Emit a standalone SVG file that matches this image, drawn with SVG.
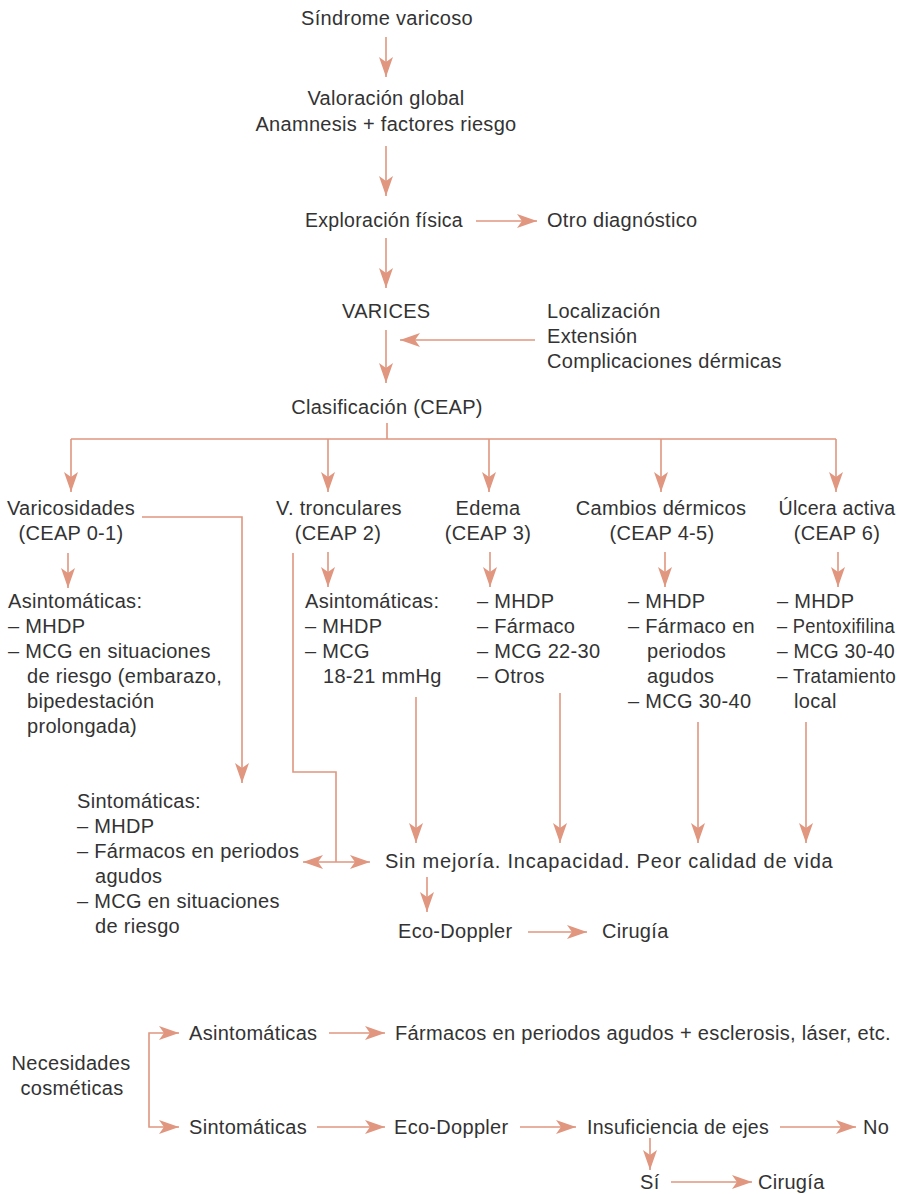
<svg xmlns="http://www.w3.org/2000/svg" width="904" height="1194" viewBox="0 0 904 1194">
<style>
text{font-family:"Liberation Sans",Arial,sans-serif;font-size:20px;fill:#333;letter-spacing:0.3px}
.c{text-anchor:middle}
.ln{fill:none;stroke:#E0967F;stroke-width:1.6}
.ar{marker-end:url(#ah)}
</style>
<defs>
<marker id="ah" markerWidth="22" markerHeight="16" refX="20" refY="8" orient="auto-start-reverse" markerUnits="userSpaceOnUse">
<path d="M20,8 L0,1 L5,8 L0,15 Z" fill="#E0967F"/>
</marker>
</defs>
<rect width="904" height="1194" fill="#fff"/>
<g id="connectors">
<path class="ln ar" d="M386,37 V77"/>
<path class="ln ar" d="M386,146 V196"/>
<path class="ln ar" d="M476,221 H537"/>
<path class="ln ar" d="M386,238 V288"/>
<path class="ln ar" d="M535,340 H400"/>
<path class="ln ar" d="M386,330 V383"/>
<path class="ln" d="M387,423 V439 M71,439 H836"/>
<path class="ln ar" d="M71,439 V492"/>
<path class="ln ar" d="M328,439 V492"/>
<path class="ln ar" d="M489,439 V492"/>
<path class="ln ar" d="M661,439 V492"/>
<path class="ln ar" d="M836,439 V492"/>
<path class="ln ar" d="M68,553 V588"/>
<path class="ln ar" d="M328,552 V587"/>
<path class="ln ar" d="M490,552 V587"/>
<path class="ln ar" d="M665,552 V587"/>
<path class="ln ar" d="M838,552 V587"/>
<path class="ln ar" d="M142,517 H242 V783"/>
<path class="ln" d="M293,553 V772 H336 V862"/>
<path class="ln ar" d="M336,862 H303"/>
<path class="ln ar" d="M336,862 H370"/>
<path class="ln ar" d="M416,697 V843"/>
<path class="ln ar" d="M560,693 V843"/>
<path class="ln ar" d="M698,722 V843"/>
<path class="ln ar" d="M806,722 V843"/>
<path class="ln ar" d="M427,877 V912"/>
<path class="ln ar" d="M528,932 H587"/>
<path class="ln" d="M179,1033 H149 V1127 H179" marker-start="url(#ah)" marker-end="url(#ah)"/>
<path class="ln ar" d="M329,1033 H385"/>
<path class="ln ar" d="M317,1127 H385"/>
<path class="ln ar" d="M520,1127 H576"/>
<path class="ln ar" d="M780,1127 H856"/>
<path class="ln ar" d="M650,1138 V1170"/>
<path class="ln ar" d="M671,1182 H752"/>
</g>
<g id="n-sindrome"><text class="c" x="387" y="25">Síndrome varicoso</text></g>
<g id="n-valoracion"><text class="c" x="386" y="105">Valoración global</text><text class="c" x="386" y="131">Anamnesis + factores riesgo</text></g>
<g id="n-exploracion"><text x="305" y="227" textLength="158" lengthAdjust="spacingAndGlyphs">Exploración física</text></g>
<g id="n-otro"><text x="547" y="227">Otro diagnóstico</text></g>
<g id="n-varices"><text x="342" y="318">VARICES</text></g>
<g id="n-localizacion"><text x="547" y="318">Localización</text><text x="547" y="343">Extensión</text><text x="547" y="368">Complicaciones dérmicas</text></g>
<g id="n-clasificacion"><text class="c" x="387" y="414">Clasificación (CEAP)</text></g>
<g id="n-varicosidades"><text class="c" x="71" y="515">Varicosidades</text><text class="c" x="71" y="540">(CEAP 0-1)</text></g>
<g id="n-tronculares"><text class="c" x="339" y="515">V. tronculares</text><text class="c" x="338" y="540">(CEAP 2)</text></g>
<g id="n-edema"><text class="c" x="488" y="515">Edema</text><text class="c" x="488" y="540">(CEAP 3)</text></g>
<g id="n-cambios"><text class="c" x="661" y="515">Cambios dérmicos</text><text class="c" x="662" y="540">(CEAP 4-5)</text></g>
<g id="n-ulcera"><text class="c" x="837" y="515" textLength="117" lengthAdjust="spacingAndGlyphs">Úlcera activa</text><text class="c" x="837" y="540">(CEAP 6)</text></g>
<g id="n-asint1"><text x="8" y="608">Asintomáticas:</text><text x="8" y="633">– MHDP</text><text x="8" y="658">– MCG en situaciones</text><text x="27" y="683">de riesgo (embarazo,</text><text x="27" y="708">bipedestación</text><text x="27" y="733">prolongada)</text></g>
<g id="n-asint2"><text x="305" y="608">Asintomáticas:</text><text x="305" y="633">– MHDP</text><text x="305" y="658">– MCG</text><text x="323" y="683">18-21 mmHg</text></g>
<g id="n-edema-list"><text x="477" y="608">– MHDP</text><text x="477" y="633">– Fármaco</text><text x="477" y="658">– MCG 22-30</text><text x="477" y="683">– Otros</text></g>
<g id="n-cambios-list"><text x="628" y="608">– MHDP</text><text x="628" y="633">– Fármaco en</text><text x="647" y="658">periodos</text><text x="647" y="683">agudos</text><text x="628" y="708">– MCG 30-40</text></g>
<g id="n-ulcera-list"><text x="777" y="608">– MHDP</text><text x="777" y="633" textLength="118" lengthAdjust="spacingAndGlyphs">– Pentoxifilina</text><text x="777" y="658" textLength="118" lengthAdjust="spacingAndGlyphs">– MCG 30-40</text><text x="777" y="683" textLength="119" lengthAdjust="spacingAndGlyphs">– Tratamiento</text><text x="794" y="708">local</text></g>
<g id="n-sint"><text x="77" y="808">Sintomáticas:</text><text x="77" y="833">– MHDP</text><text x="77" y="858">– Fármacos en periodos</text><text x="95" y="883">agudos</text><text x="77" y="908">– MCG en situaciones</text><text x="95" y="933">de riesgo</text></g>
<g id="n-sinmejoria"><text x="385" y="868" textLength="448" lengthAdjust="spacing">Sin mejoría. Incapacidad. Peor calidad de vida</text></g>
<g id="n-eco1"><text x="398" y="938">Eco-Doppler</text></g>
<g id="n-cirugia1"><text x="602" y="938">Cirugía</text></g>
<g id="n-necesidades"><text class="c" x="71" y="1070">Necesidades</text><text class="c" x="72" y="1095">cosméticas</text></g>
<g id="n-asint3"><text x="189" y="1040">Asintomáticas</text></g>
<g id="n-farmacos"><text x="395" y="1040" textLength="496" lengthAdjust="spacingAndGlyphs">Fármacos en periodos agudos + esclerosis, láser, etc.</text></g>
<g id="n-sint2"><text x="189" y="1134">Sintomáticas</text></g>
<g id="n-eco2"><text x="394" y="1134">Eco-Doppler</text></g>
<g id="n-insuf"><text x="587" y="1134" textLength="182" lengthAdjust="spacingAndGlyphs">Insuficiencia de ejes</text></g>
<g id="n-no"><text x="863" y="1134">No</text></g>
<g id="n-si"><text x="640" y="1189">Sí</text></g>
<g id="n-cirugia2"><text x="758" y="1189">Cirugía</text></g>
</svg>
